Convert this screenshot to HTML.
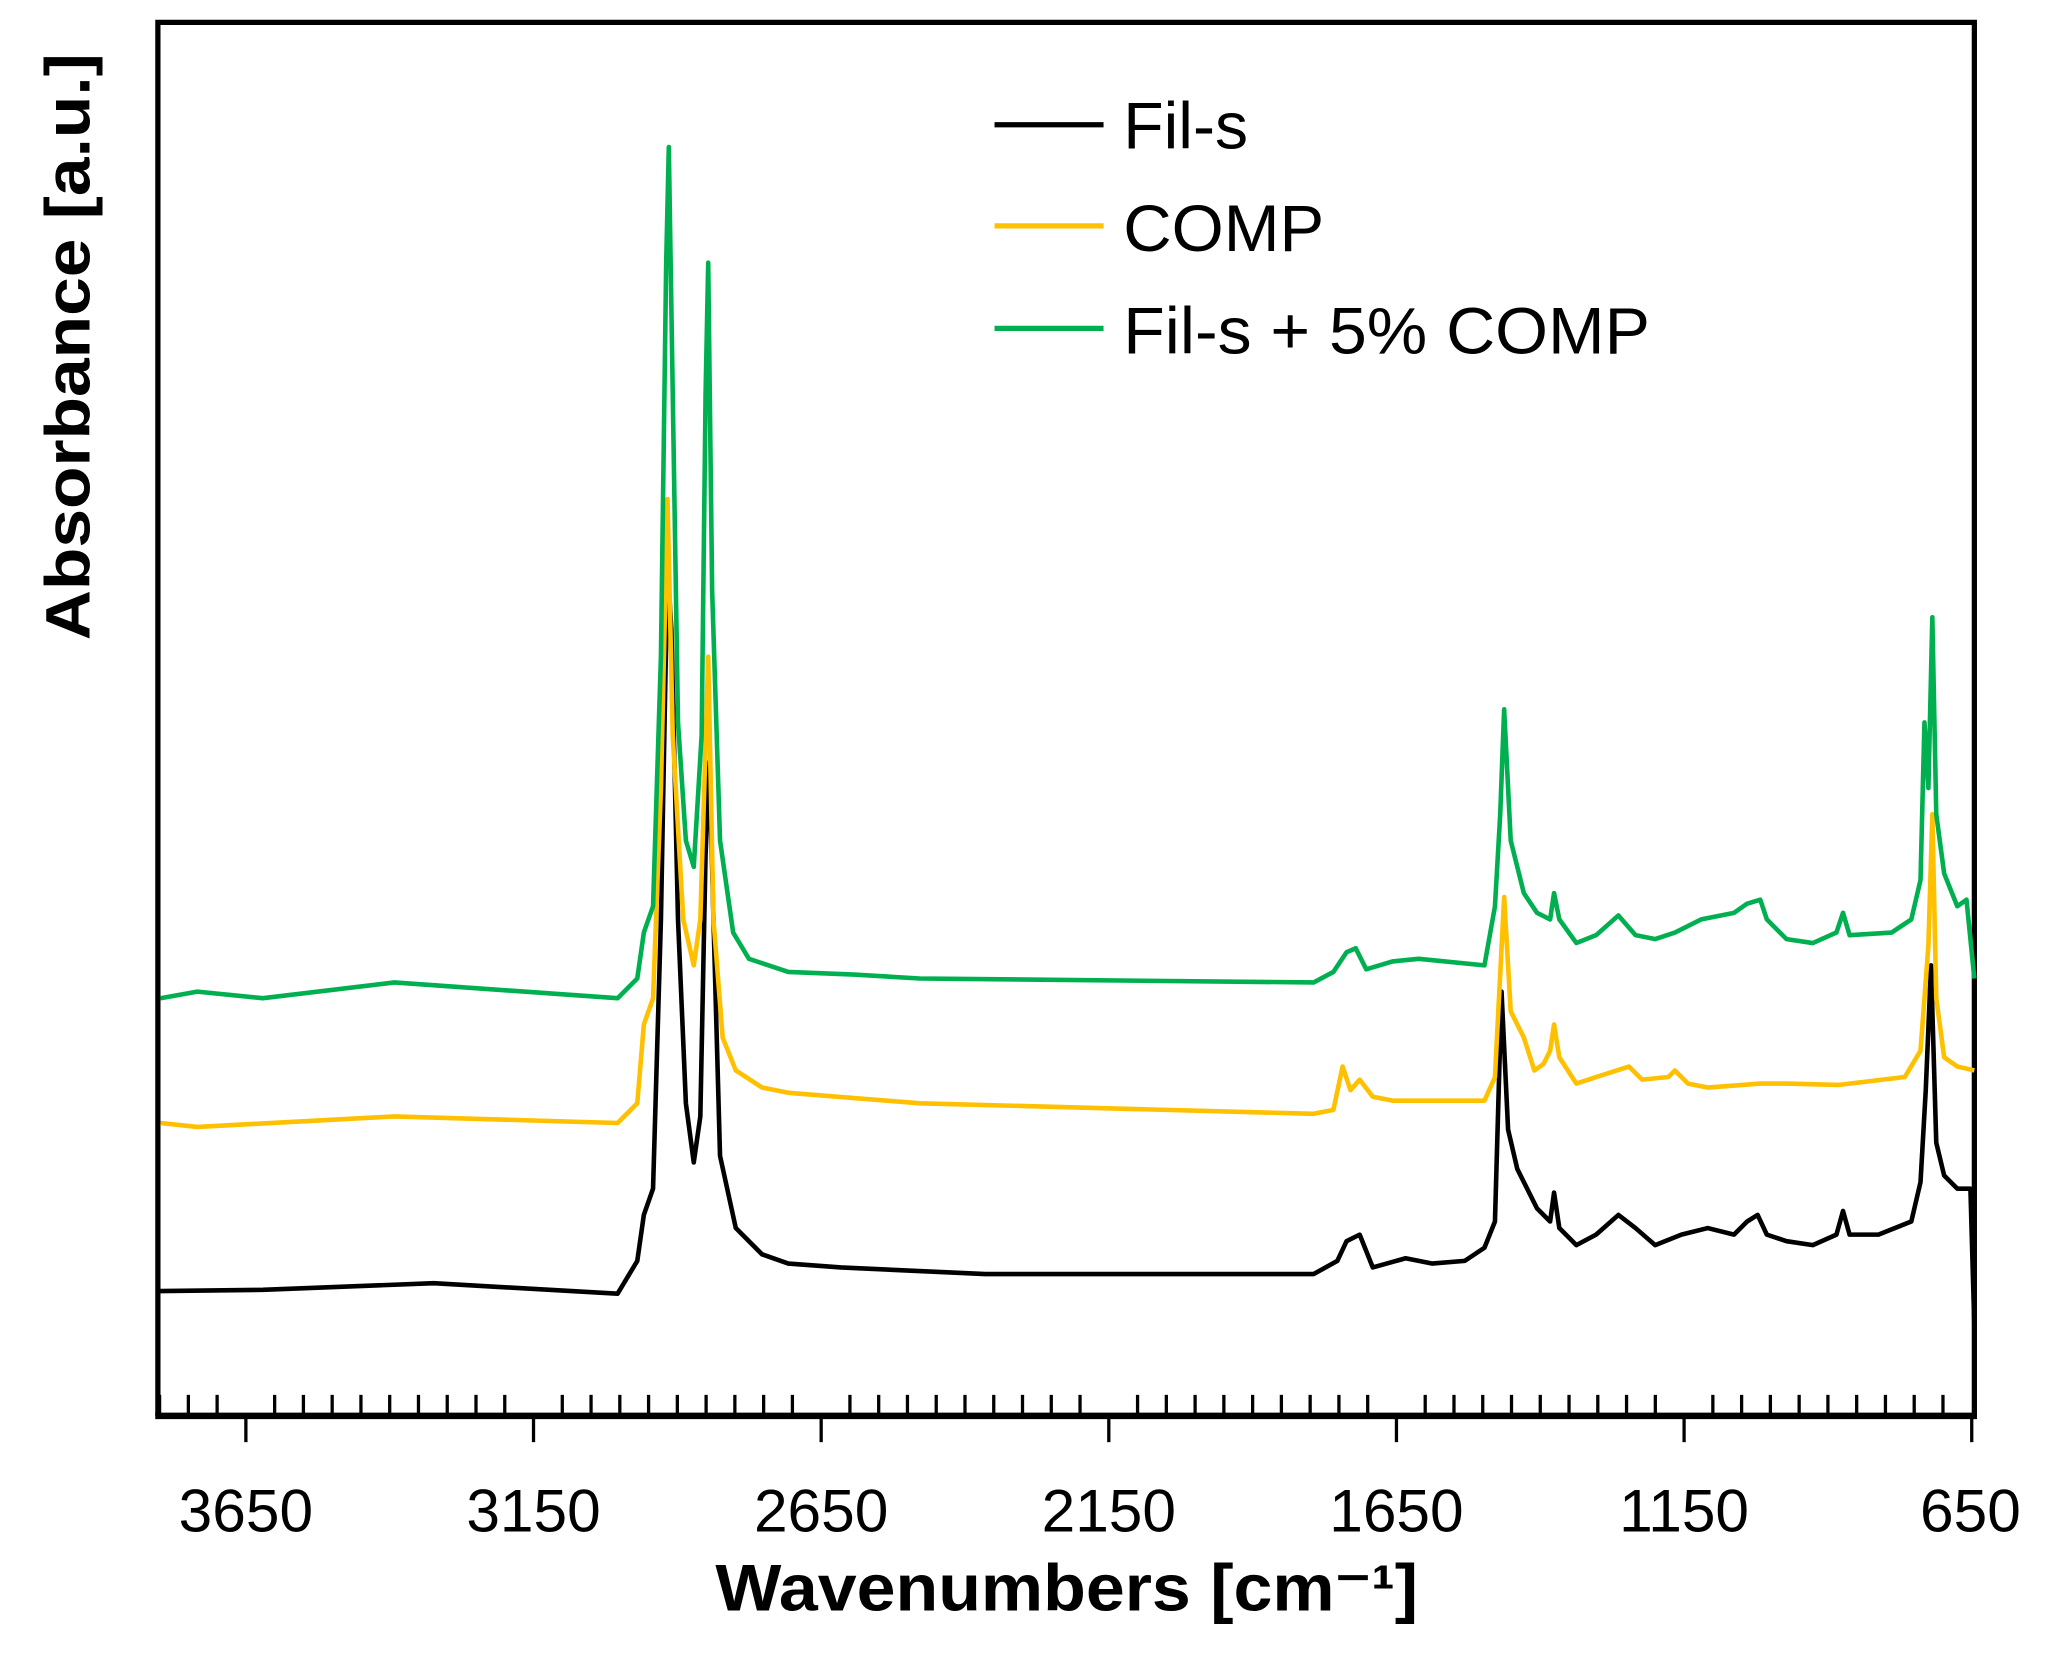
<!DOCTYPE html>
<html><head><meta charset="utf-8"><style>html,body{margin:0;padding:0;background:#fff}svg{display:block}</style></head>
<body>
<svg width="2060" height="1672" viewBox="0 0 1568 1273" xmlns="http://www.w3.org/2000/svg" font-family="'Liberation Sans', sans-serif">
<rect width="1568" height="1273" fill="#fff"/>
<path d="M120,1078 V17 H1503 V1078" fill="none" stroke="#000" stroke-width="4"/>
<line x1="118" y1="1078" x2="1505" y2="1078" stroke="#000" stroke-width="5"/>
<g id="ticks" stroke="#000" stroke-width="2.5"></g>
<g fill="none" stroke-width="3.5" stroke-linejoin="round">
<polyline stroke="#000" points="122,983 200,982 330,977 470,985 485,960 490,925 497,905 503,700 508,430 511,480 516,700 522,840 528,885 533,850 537,650 540,580 543,700 548,880 560,935 580,955 600,962 640,965 750,970 1000,970 1018,960 1025,945 1035,940 1045,965 1070,958 1090,962 1115,960 1130,950 1138,930 1143,755 1148,860 1155,890 1170,920 1180,930 1183,908 1187,935 1200,948 1215,940 1232,925 1245,935 1260,948 1280,940 1300,935 1320,940 1330,930 1338,925 1345,940 1360,945 1380,948 1398,940 1403,922 1408,940 1430,940 1455,930 1462,900 1466,830 1470,735 1474,870 1480,895 1490,905 1500,905 1503,1010"/>
<polyline stroke="#FFC000" points="122,855 150,858 300,850 470,855 485,840 490,780 497,760 503,600 508,380 512,560 520,700 528,735 533,700 539,500 543,700 550,790 560,815 580,828 600,832 700,840 1000,848 1015,845 1022,812 1028,830 1035,822 1045,835 1060,838 1130,838 1138,820 1145,683 1150,770 1160,790 1168,815 1175,810 1180,800 1183,780 1187,805 1200,825 1215,820 1240,812 1250,822 1270,820 1275,815 1285,825 1300,828 1340,825 1360,825 1400,826 1450,820 1462,800 1468,720 1471,620 1474,760 1480,805 1490,812 1503,815"/>
<polyline stroke="#00B050" points="122,760 150,755 200,760 300,748 470,760 485,745 490,710 497,690 503,500 507,200 509,112 512,300 516,550 522,640 528,660 534,560 537,300 539,200 542,450 548,640 558,710 570,730 600,740 650,742 700,745 1000,748 1015,740 1025,725 1032,722 1040,738 1060,732 1080,730 1130,735 1138,690 1142,620 1145,540 1150,640 1160,680 1170,695 1180,700 1183,680 1187,700 1200,718 1215,712 1232,697 1245,712 1260,715 1275,710 1295,700 1320,695 1330,688 1340,685 1345,700 1360,715 1380,718 1398,710 1403,695 1408,712 1440,710 1455,700 1462,670 1465,550 1468,600 1471,470 1474,620 1480,665 1490,690 1497,685 1503,745"/>
</g>
<g stroke-width="4">
<line x1="757" y1="95" x2="840" y2="95" stroke="#000"/>
<line x1="757" y1="172" x2="840" y2="172" stroke="#FFC000"/>
<line x1="757" y1="250" x2="840" y2="250" stroke="#00B050"/>
</g>
<g font-size="50" fill="#000">
<text x="855" y="113" textLength="95" lengthAdjust="spacingAndGlyphs">Fil-s</text>
<text x="855" y="191" textLength="153" lengthAdjust="spacingAndGlyphs">COMP</text>
<text x="855" y="269" textLength="401" lengthAdjust="spacingAndGlyphs">Fil-s + 5% COMP</text>
</g>
<g font-size="46" text-anchor="middle" fill="#000">
<text x="187" y="1166">3650</text>
<text x="406" y="1166">3150</text>
<text x="625" y="1166">2650</text>
<text x="844" y="1166">2150</text>
<text x="1063" y="1166">1650</text>
<text x="1282" y="1166">1150</text>
<text x="1500" y="1166">650</text>
</g>
<text x="812" y="1226" font-size="50" font-weight="bold" text-anchor="middle" textLength="535" lengthAdjust="spacingAndGlyphs">Wavenumbers [cm⁻¹]</text>
<text transform="translate(68,264) rotate(-90)" font-size="48" font-weight="bold" text-anchor="middle" textLength="447" lengthAdjust="spacingAndGlyphs">Absorbance [a.u.]</text>
<script>
(function(){
 var g=document.getElementById('ticks'),ns='http://www.w3.org/2000/svg';
 for(var w=3800;w>=650;w-=50){
  var x=187+(3650-w)*0.438;
  if(x<121||x>1504)continue;
  var major=((3650-w)%500===0);
  var l=document.createElementNS(ns,'line');
  l.setAttribute('x1',x);l.setAttribute('x2',x);
  if(major){l.setAttribute('y1',1078);l.setAttribute('y2',1098);}
  else{l.setAttribute('y1',1062);l.setAttribute('y2',1078);}
  g.appendChild(l);
 }
})();
</script>
</svg>
</body></html>
